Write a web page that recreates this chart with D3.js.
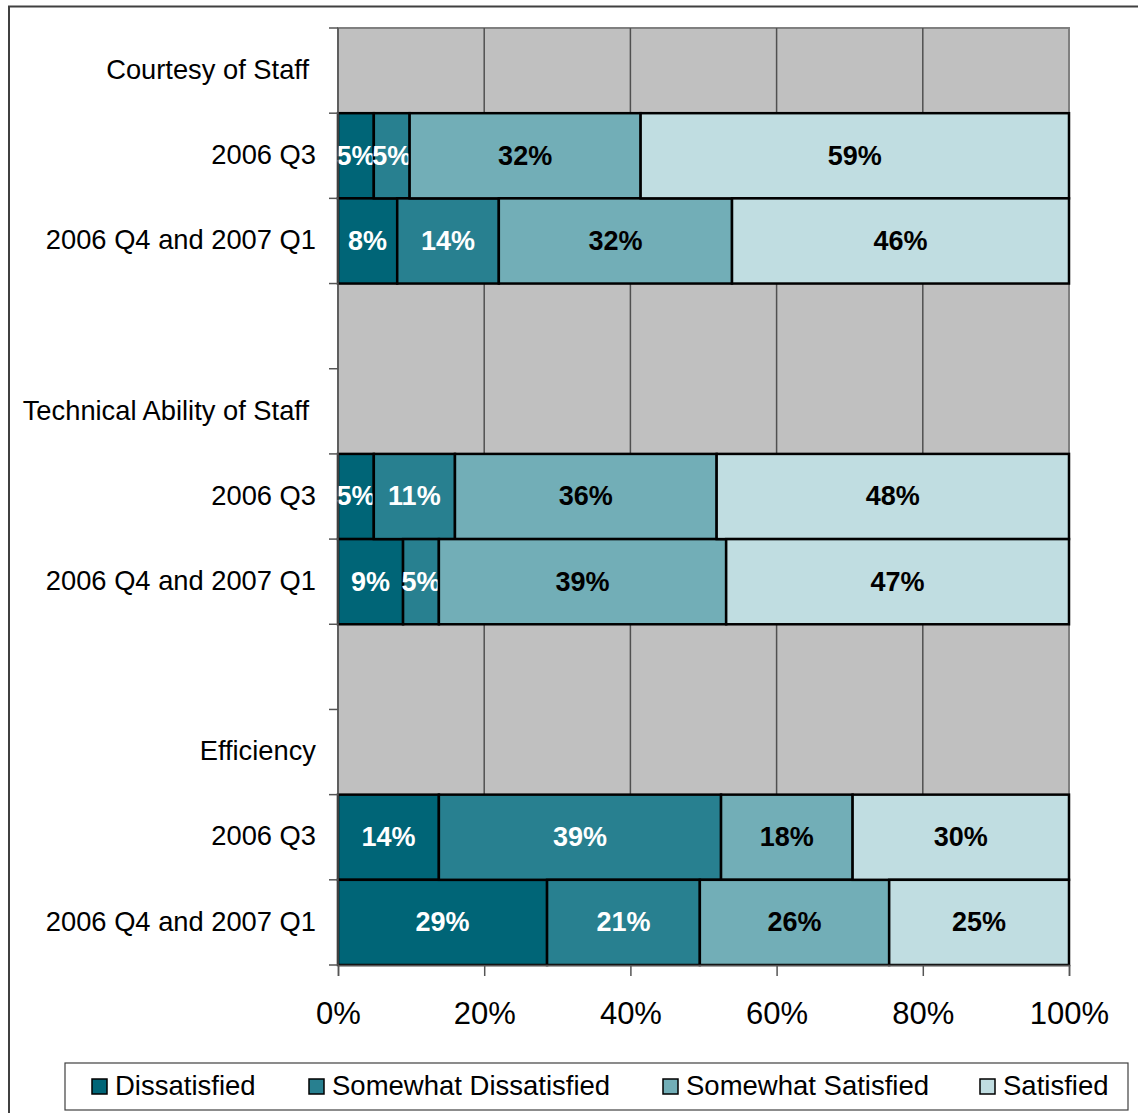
<!DOCTYPE html>
<html>
  <head>
    <style>
      body { margin: 0; background: #fff; }
      text { font-family: "Liberation Sans", Arial, sans-serif; }
    </style>
  </head>
  <body>
    <script src="https://d3js.org/d3.v7.min.js"></script>
    <script>
    var width = 1138, height = 1113;

    // rows top to bottom, gap rows are empty spacers
    var rows = ["Courtesy of Staff", "c1", "c2", "gap1", "Technical Ability of Staff", "t1", "t2", "gap2", "Efficiency", "e1", "e2"];
    var rowLabels = ["Courtesy of Staff", "2006 Q3", "2006 Q4 and 2007 Q1", "", "Technical Ability of Staff", "2006 Q3", "2006 Q4 and 2007 Q1", "", "Efficiency", "2006 Q3", "2006 Q4 and 2007 Q1"];
    var barRows = ["c1", "c2", "t1", "t2", "e1", "e2"];

    var series = ["Dissatisfied", "Somewhat Dissatisfied", "Somewhat Satisfied", "Satisfied"];
    var colors = ["#006577", "#288090", "#72AEB7", "#C0DDE1"];
    var textColors = ["#fff", "#fff", "#000", "#000"];

    // share of answers per row, in the order of series
    var dissatisfied         = [4.9, 8.1, 4.9, 8.9, 13.8, 28.6];
    var somewhatDissatisfied = [4.9, 13.9, 11.1, 4.9, 38.6, 20.9];
    var somewhatSatisfied    = [31.6, 31.9, 35.8, 39.3, 18.0, 25.9];
    var satisfied            = [58.6, 46.1, 48.2, 46.9, 29.6, 24.6];

    var xTicks = [0, 20, 40, 60, 80, 100];

    var table = barRows.map(function(r, i) {
      return { row: r, Dissatisfied: dissatisfied[i], "Somewhat Dissatisfied": somewhatDissatisfied[i],
               "Somewhat Satisfied": somewhatSatisfied[i], Satisfied: satisfied[i] };
    });

    var margin = { top: 28, left: 338, right: 69, bottom: 148 };

    var svg = d3.select("body").append("svg")
        .attr("width", width)
        .attr("height", height);

    // outer frame (only top and left show)
    svg.append("path")
        .attr("d", "M9,1113 L9,6.5 L1138,6.5")
        .attr("fill", "none")
        .attr("stroke", "#404040")
        .attr("stroke-width", 2);

    var x = d3.scaleLinear().domain([0, 100]).range([margin.left, width - margin.right]);
    var y = d3.scaleBand().domain(rows).range([margin.top, height - margin.bottom]);

    // plot background
    svg.append("rect")
        .attr("x", x(0)).attr("y", y.range()[0])
        .attr("width", x(100) - x(0)).attr("height", y.range()[1] - y.range()[0])
        .attr("fill", "#C0C0C0")
        .attr("stroke", "#808080")
        .attr("stroke-width", 2);

    // vertical grid
    svg.append("g").selectAll("line")
        .data(xTicks.slice(1, -1))
        .enter().append("line")
        .attr("x1", function(d) { return x(d); }).attr("x2", function(d) { return x(d); })
        .attr("y1", y.range()[0]).attr("y2", y.range()[1])
        .attr("stroke", "#505050").attr("stroke-width", 1.5);

    // stacked bars
    var stacked = d3.stack().keys(series)(table);

    var layers = svg.append("g").selectAll("g")
        .data(stacked)
        .enter().append("g")
        .attr("fill", function(d, i) { return colors[i]; });

    layers.selectAll("rect")
        .data(function(d) { return d; })
        .enter().append("rect")
        .attr("x", function(d) { return x(d[0]); })
        .attr("y", function(d) { return y(d.data.row); })
        .attr("width", function(d) { return x(d[1]) - x(d[0]); })
        .attr("height", y.bandwidth())
        .attr("stroke", "#000")
        .attr("stroke-width", 2.5);

    layers.each(function(layer, i) {
      d3.select(this).selectAll("text")
        .data(layer)
        .enter().append("text")
        .attr("x", function(d) { return (x(d[0]) + x(d[1])) / 2; })
        .attr("y", function(d) { return y(d.data.row) + y.bandwidth() / 2; })
        .attr("dy", "0.33em")
        .attr("text-anchor", "middle")
        .attr("font-size", 27)
        .attr("font-weight", "bold")
        .attr("fill", textColors[i])
        .text(function(d) { return Math.round(d[1] - d[0]) + "%"; });
    });

    // left axis ticks
    var yEdges = rows.map(function(r) { return y(r); }).concat([y.range()[1]]);
    svg.append("g").selectAll("line")
        .data(yEdges)
        .enter().append("line")
        .attr("x1", x(0) - 9).attr("x2", x(0))
        .attr("y1", function(d) { return d; }).attr("y2", function(d) { return d; })
        .attr("stroke", "#555").attr("stroke-width", 1.5);

    svg.append("line")
        .attr("x1", x(0)).attr("x2", x(0))
        .attr("y1", y.range()[0]).attr("y2", y.range()[1])
        .attr("stroke", "#555").attr("stroke-width", 1.5);

    svg.append("g").selectAll("text")
        .data(rows)
        .enter().append("text")
        .attr("x", function(d, i) { return (i === 0 || i === 4) ? 309 : 316; })
        .attr("y", function(d) { return y(d) + y.bandwidth() / 2; })
        .attr("dy", "0.3em")
        .attr("text-anchor", "end")
        .attr("font-size", 27.3)
        .attr("fill", "#000")
        .text(function(d, i) { return rowLabels[i]; });

    // bottom axis
    var xAxis = svg.append("g")
        .attr("transform", "translate(0," + y.range()[1] + ")")
        .call(d3.axisBottom(x).tickValues(xTicks).tickSize(11).tickPadding(26)
              .tickFormat(function(d) { return d + "%"; }));
    xAxis.select(".domain").attr("stroke", "#555").attr("stroke-width", 1.5);
    xAxis.selectAll(".tick line").attr("stroke", "#555").attr("stroke-width", 1.5);
    xAxis.selectAll(".tick text")
        .attr("font-size", 31)
        .attr("font-family", "Liberation Sans, Arial, sans-serif")
        .attr("fill", "#000");

    // legend
    var legend = svg.append("g");
    legend.append("rect")
        .attr("x", 65).attr("y", 1063).attr("width", 1063).attr("height", 47)
        .attr("fill", "#fff").attr("stroke", "#404040").attr("stroke-width", 1.2);

    var legendX = [92, 309, 663, 980];
    var items = legend.selectAll("g.item")
        .data(series)
        .enter().append("g")
        .attr("class", "item")
        .attr("transform", function(d, i) { return "translate(" + legendX[i] + ",1086)"; });

    items.append("rect")
        .attr("x", 0).attr("y", -7).attr("width", 15).attr("height", 15)
        .attr("fill", function(d, i) { return colors[i]; })
        .attr("stroke", "#000").attr("stroke-width", 1.5);

    items.append("text")
        .attr("x", 23).attr("y", 0).attr("dy", "0.33em")
        .attr("font-size", 27.5)
        .attr("fill", "#000")
        .text(function(d) { return d; });
    </script>
  </body>
</html>
